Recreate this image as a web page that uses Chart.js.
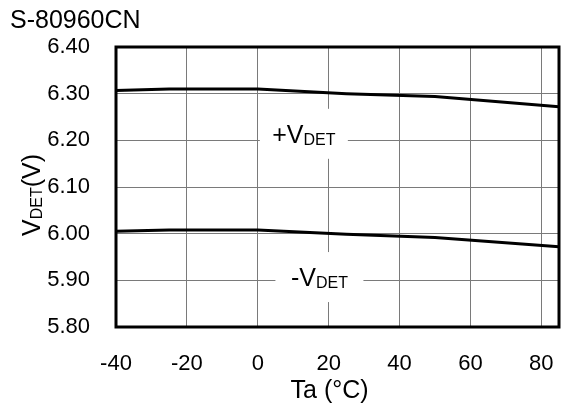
<!DOCTYPE html>
<html>
<head>
<meta charset="utf-8">
<script src="https://cdn.jsdelivr.net/npm/chart.js@4.4.1/dist/chart.umd.min.js"></script>
<style>
  body { margin: 0; background: #fff; }
  canvas { display: block; }
</style>
</head>
<body>
<canvas id="chart" width="561" height="409"></canvas>
<script>
// ========== DATA ========== //
const chartTitle = "S-80960CN";
const tempC = [-40, -25, 0, 25, 50, 85];
const vdetPlus = [6.307, 6.310, 6.310, 6.300, 6.294, 6.272];
const vdetMinus = [6.005, 6.008, 6.008, 5.999, 5.992, 5.972];
const xTicks = [-40, -20, 0, 20, 40, 60, 80];
const yTicks = [5.80, 5.90, 6.00, 6.10, 6.20, 6.30, 6.40];

// in-plot labels (main text + subscript), anchored in data coords
const labelMain = ["+V", "-V"];
const labelSub = ["DET", "DET"];
const labelX = [13, 17.4];
const labelY = [6.214, 5.907];

const FONT = "'Liberation Sans', Arial, sans-serif";

// ========== CUSTOM DRAWING ========== //
function drawSubText(ctx, main, sub, x, y, size, subSize, subDrop) {
  ctx.font = size + "px " + FONT;
  let w1 = ctx.measureText(main).width;
  ctx.font = subSize + "px " + FONT;
  let w2 = ctx.measureText(sub).width;
  let start = x - (w1 + w2) / 2;
  ctx.textAlign = "left";
  ctx.textBaseline = "alphabetic";
  ctx.font = size + "px " + FONT;
  ctx.fillText(main, start, y);
  ctx.font = subSize + "px " + FONT;
  ctx.fillText(sub, start + w1, y + subDrop);
}

const decor = {
  id: "decor",
  beforeDatasetsDraw(chart) {
    const ctx = chart.ctx;
    const xs = chart.scales.x, ys = chart.scales.y;
    ctx.save();
    for (let i = 0; i < labelMain.length; i++) {
      let cx = xs.getPixelForValue(labelX[i]);
      let cy = ys.getPixelForValue(labelY[i]);
      ctx.fillStyle = "#fff";
      ctx.fillRect(cx - 44, cy - 25, 88, 50);
      ctx.fillStyle = "#000";
      drawSubText(ctx, labelMain[i], labelSub[i], cx, cy + 9, 25, 16, 2);
    }
    ctx.restore();
  },
  afterDatasetsDraw(chart) {
    const ctx = chart.ctx;
    const a = chart.chartArea;
    const xs = chart.scales.x;
    ctx.save();
    // frame
    ctx.strokeStyle = "#000";
    ctx.lineWidth = 3;
    ctx.strokeRect(a.left, a.top, a.right - a.left, a.bottom - a.top);

    ctx.fillStyle = "#000";
    // chart title
    ctx.font = "25px " + FONT;
    ctx.textAlign = "left";
    ctx.textBaseline = "alphabetic";
    ctx.fillText(chartTitle, 10, 28);

    // x axis title
    ctx.textAlign = "center";
    ctx.fillText("Ta (°C)", xs.getPixelForValue(20) + 1, 398);

    // y axis title, rotated
    ctx.translate(40, 195);
    ctx.rotate(-Math.PI / 2);
    ctx.font = "25px " + FONT;
    let w1 = ctx.measureText("V").width;
    ctx.font = "16px " + FONT;
    let w2 = ctx.measureText("DET").width;
    ctx.font = "25px " + FONT;
    let w3 = ctx.measureText("(V)").width;
    let s = -(w1 + w2 + w3) / 2;
    ctx.textAlign = "left";
    ctx.fillText("V", s, 0);
    ctx.font = "16px " + FONT;
    ctx.fillText("DET", s + w1, 2);
    ctx.font = "25px " + FONT;
    ctx.fillText("(V)", s + w1 + w2, 0);
    ctx.restore();
  }
};

// ========== CHART ========== //
const pts = (ys) => tempC.map((t, i) => ({ x: t, y: ys[i] }));

new Chart(document.getElementById("chart"), {
  type: "line",
  data: {
    datasets: [
      { data: pts(vdetPlus), borderColor: "#000", borderWidth: 3, pointRadius: 0, tension: 0, fill: false },
      { data: pts(vdetMinus), borderColor: "#000", borderWidth: 3, pointRadius: 0, tension: 0, fill: false }
    ]
  },
  options: {
    responsive: false,
    animation: false,
    devicePixelRatio: 1,
    layout: { padding: { top: 47, right: 2, left: 0, bottom: 0 } },
    plugins: { legend: { display: false }, tooltip: { enabled: false } },
    scales: {
      x: {
        type: "linear",
        min: -40,
        max: 85,
        afterBuildTicks: s => { s.ticks = xTicks.map(v => ({ value: v })); },
        afterFit: s => { s.height = 82; s.paddingLeft = 0; s.paddingRight = 0; },
        grid: { color: "#7a7a7a", lineWidth: 1, drawTicks: false },
        border: { display: false },
        ticks: { color: "#000", font: { family: FONT, size: 22 }, padding: 24, maxRotation: 0 }
      },
      y: {
        min: 5.8,
        max: 6.4,
        afterBuildTicks: s => { s.ticks = yTicks.map(v => ({ value: v })); },
        afterFit: s => { s.width = 116; s.paddingTop = 0; s.paddingBottom = 0; },
        grid: { color: "#7a7a7a", lineWidth: 1, drawTicks: false },
        border: { display: false },
        ticks: { color: "#000", font: { family: FONT, size: 22 }, padding: 26, callback: v => v.toFixed(2) }
      }
    }
  },
  plugins: [decor]
});
</script>
</body>
</html>
